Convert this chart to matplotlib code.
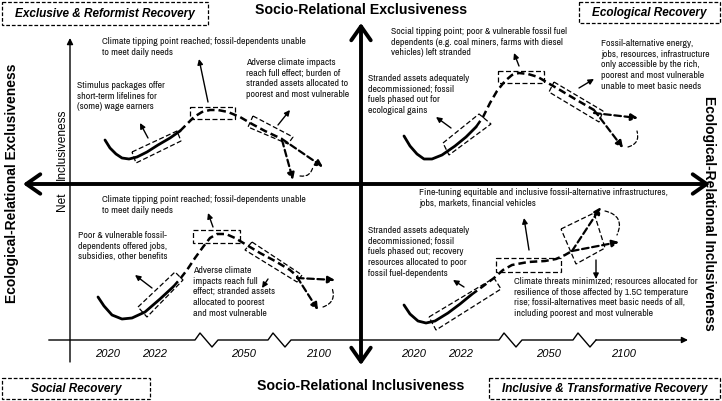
import matplotlib.pyplot as plt
from matplotlib import font_manager
from matplotlib.patches import FancyArrowPatch, Polygon

# ---- diagram content (positions in picture pixels, y down) ----
title_top = "Socio-Relational Exclusiveness"
title_bottom = "Socio-Relational Inclusiveness"
side_left = "Ecological-Relational Exclusiveness"
side_right = "Ecological-Relational Inclusiveness"
corner_labels = ["Exclusive & Reformist Recovery", "Ecological Recovery",
                 "Social Recovery", "Inclusive & Transformative Recovery"]
years = ["2020", "2022", "2050", "2100"]
year_x_left = [108, 155, 244, 319]
year_x_right = [414, 461, 549, 624]
zigzag_x = [195, 268, 499, 573]

# trajectories: solid part (now) and dashed part (projected)
tl_solid = [(105, 140), (110, 148), (116, 154), (122, 158), (129, 159), (137, 157),
            (147, 152), (158, 145), (170, 138), (180, 131)]
tl_dash = [(180, 131), (187, 124), (194, 117), (202, 112), (210, 110), (218, 110),
           (228, 112), (240, 117), (252, 124), (265, 131), (282, 139)]
tr_solid = [(404, 136), (410, 146), (417, 154), (424, 159), (432, 159), (442, 155),
            (455, 146), (466, 137), (476, 127)]
tr_dash = [(476, 127), (483, 117), (490, 103), (497, 91), (505, 81), (512, 75),
           (519, 73), (528, 74), (538, 77), (548, 83), (560, 90), (575, 99), (594, 110)]
bl_solid = [(98, 297), (104, 306), (112, 315), (122, 319), (132, 318), (145, 312),
            (160, 299), (173, 287)]
bl_dash = [(173, 287), (180, 279), (187, 270), (195, 258), (203, 247), (210, 238),
           (217, 234), (226, 234), (235, 238), (245, 244), (260, 253), (275, 261),
           (290, 270), (298, 277)]
br_solid = [(404, 305), (410, 314), (418, 321), (426, 323), (435, 321), (448, 313),
            (460, 304), (471, 295)]
br_dash = [(471, 295), (482, 287), (494, 278), (503, 270), (512, 265), (528, 262),
           (545, 261), (556, 259), (565, 255), (572, 251)]

# forked dashed arrows at the end of each trajectory (start, end)
forks = [((282, 139), (323, 167)), ((282, 140), (293, 180)),
         ((594, 113), (638, 118)), ((594, 110), (623, 148)),
         ((297, 278), (335, 280)), ((297, 277), (318, 310)),
         ((572, 251), (601, 207)), ((572, 251), (619, 242))]
# small dashed arcs between the fork ends
arcs = [((300, 176), (313, 166), 0.5), ((628, 147), (637, 131), 0.5),
        ((323, 307), (332, 288), 0.5), ((605, 211), (617, 235), -0.6)]

# dashed highlight boxes
boxes = [
    [(132, 152), (177, 131), (181, 141), (136, 163)],
    [(190, 107), (235, 107), (235, 119), (190, 119)],
    [(253, 116), (293, 137), (288, 144), (248, 127)],
    [(443, 143), (479, 114), (491, 124), (449, 155)],
    [(498, 71), (544, 71), (544, 83), (498, 83)],
    [(554, 82), (603, 111), (599, 122), (549, 92)],
    [(138, 307), (175, 272), (183, 280), (147, 317)],
    [(193, 230), (240, 230), (240, 243), (193, 243)],
    [(252, 242), (302, 275), (297, 282), (245, 250)],
    [(429, 317), (494, 278), (501, 289), (436, 330)],
    [(496, 258), (561, 258), (561, 272), (496, 272)],
    [(561, 229), (594, 213), (605, 248), (576, 264)],
]

# pointer arrows from boxes to notes (start, end)
pointers = [((148, 138), (140, 123)), ((208, 102), (199, 59)), ((278, 125), (290, 110)),
            ((451, 128), (436, 117)), ((519, 66), (514, 53)), ((579, 88), (594, 79)),
            ((152, 288), (135, 275)), ((213, 227), (208, 213)), ((268, 279), (262, 288)),
            ((464, 287), (453, 280)), ((529, 250), (524, 218)), ((596, 260), (596, 279))]

# notes: left x, centre of first line, text
notes = [
    (102, 43, "Climate tipping point reached; fossil-dependents unable\nto meet daily needs"),
    (77, 87, "Stimulus packages offer\nshort-term lifelines for\n(some) wage earners"),
    (246, 64, "Adverse climate impacts\nreach full effect; burden of\nstranded assets allocated to\npoorest and most vulnerable"),
    (391, 33, "Social tipping point; poor & vulnerable fossil fuel\ndependents (e.g. coal miners, farms with diesel\nvehicles) left stranded"),
    (368, 80, "Stranded assets adequately\ndecommissioned; fossil\nfuels phased out for\necological gains"),
    (601, 45, "Fossil-alternative energy,\njobs, resources, infrastructure\nonly accessible by the rich,\npoorest and most vulnerable\nunable to meet basic needs"),
    (102, 201, "Climate tipping point reached; fossil-dependents unable\nto meet daily needs"),
    (78, 237, "Poor & vulnerable fossil-\ndependents offered jobs,\nsubsidies, other benefits"),
    (193, 272, "Adverse climate\nimpacts reach full\neffect; stranded assets\nallocated to poorest\nand most vulnerable"),
    (419, 194, "Fine-tuning equitable and inclusive fossil-alternative infrastructures,\njobs, markets, financial vehicles"),
    (368, 232, "Stranded assets adequately\ndecommissioned; fossil\nfuels phased out; recovery\nresources allocated to poor\nfossil fuel-dependents"),
    (514, 283, "Climate threats minimized; resources allocated for\nresilience of those affected by 1.5C temperature\nrise; fossil-alternatives meet basic needs of all,\nincluding poorest and most vulnerable"),
]

plt.rcParams["font.family"] = ["Liberation Sans", "DejaVu Sans"]

# pick a narrow face for the notes if one is installed
installed = {f.name for f in font_manager.fontManager.ttflist}
narrow_name = "Liberation Sans"
prefs = ["Liberation Sans Narrow", "Arial Narrow", "Archivo Narrow", "PT Sans Narrow",
         "Roboto Condensed", "Fira Sans Condensed", "IBM Plex Sans Condensed",
         "Open Sans Condensed", "Asap Condensed", "Encode Sans Condensed",
         "Barlow Semi Condensed", "Sofia Sans Condensed", "Pragati Narrow", "Abel"]
for cand in prefs:
    if cand in installed:
        narrow_name = cand
        break
else:
    extra = sorted(n for n in installed if "Narrow" in n or "Condensed" in n)
    if extra:
        narrow_name = extra[0]
narrow = [narrow_name, "DejaVu Sans"]

fig = plt.figure(figsize=(7.22, 4.01), dpi=100)
ax = fig.add_axes([0, 0, 1, 1])
ax.set_xlim(0, 722)
ax.set_ylim(401, 0)
ax.axis("off")

# size the notes so the longest reference line is ~203 px wide
probe = ax.text(0, 0, "Climate tipping point reached; fossil-dependents unable",
                fontsize=7, family=narrow)
fig.canvas.draw()
w = probe.get_window_extent().width
probe.remove()
note_size = min(7.3, 7 * 203 / w)
note_px = note_size * 100 / 72
note_ls = 12.3 / note_px

# main axes (thick, open heads)
ax.add_patch(FancyArrowPatch((23, 184), (710, 184), arrowstyle="<->,head_length=0.5,head_width=0.35",
                             mutation_scale=20, lw=2.8, color="black", shrinkA=0, shrinkB=0))
ax.add_patch(FancyArrowPatch((361, 365), (361, 23), arrowstyle="<->,head_length=0.5,head_width=0.35",
                             mutation_scale=20, lw=2.8, color="black", shrinkA=0, shrinkB=0))

# inner time axes
ax.add_patch(FancyArrowPatch((70, 362), (70, 38), arrowstyle="-|>", mutation_scale=9,
                             lw=1, color="black", shrinkA=0, shrinkB=0))
base_y = 340
bx = [49]
by = [base_y]
for z in zigzag_x:
    bx += [z, z + 5, z + 17, z + 23]
    by += [base_y, base_y - 7, base_y + 7, base_y]
ax.plot(bx, by, color="black", lw=1)
ax.add_patch(FancyArrowPatch((zigzag_x[-1] + 23, base_y), (688, base_y), arrowstyle="-|>",
                             mutation_scale=9, lw=1, color="black", shrinkA=0, shrinkB=0))

for xs in (year_x_left, year_x_right):
    for x, lab in zip(xs, years):
        ax.text(x, 354, lab, ha="center", va="center", fontsize=8, style="italic")

ax.text(62, 144, "Inclusiveness", rotation=90, ha="center", va="center", fontsize=8.6)
ax.text(62, 202, "Net", rotation=90, ha="center", va="center", fontsize=8.6)

# trajectories
for solid, dash in ((tl_solid, tl_dash), (tr_solid, tr_dash), (bl_solid, bl_dash), (br_solid, br_dash)):
    ax.plot([p[0] for p in solid], [p[1] for p in solid], color="black", lw=2,
            solid_capstyle="round", solid_joinstyle="round")
    ax.plot([p[0] for p in dash], [p[1] for p in dash], color="black", lw=1.8,
            linestyle=(0, (3, 1.6)))

for s, e in forks:
    ax.add_patch(FancyArrowPatch(s, e, arrowstyle="-|>", mutation_scale=10, lw=1.6,
                                 linestyle=(0, (3, 1.6)), color="black", shrinkA=0, shrinkB=0))
for s, e, rad in arcs:
    ax.add_patch(FancyArrowPatch(s, e, arrowstyle="-", connectionstyle=f"arc3,rad={rad}",
                                 lw=0.9, linestyle=(0, (3, 2)), color="black", shrinkA=0, shrinkB=0))

for b in boxes:
    ax.add_patch(Polygon(b, closed=True, fill=False, lw=0.9, ls=(0, (4, 2)), ec="black"))

for s, e in pointers:
    ax.add_patch(FancyArrowPatch(s, e, arrowstyle="-|>", mutation_scale=8, lw=1,
                                 color="black", shrinkA=0, shrinkB=0))

for x, yc, t in notes:
    ax.text(x, yc - 0.62 * note_px, t, ha="left", va="top", fontsize=note_size, family=narrow,
            color="#111111", linespacing=note_ls)

# titles
ax.text(361, 10, title_top, ha="center", va="center", fontsize=10.2, weight="bold")
ax.text(361, 386, title_bottom, ha="center", va="center", fontsize=10.2, weight="bold")
ax.text(12, 183, side_left, rotation=90, ha="center", va="center", fontsize=10, weight="bold")
ax.text(709, 213, side_right, rotation=270, ha="center", va="center", fontsize=10, weight="bold")

corner_boxes = [(2, 2, 206, 23), (579, 2, 141, 21), (2, 378, 148, 21), (489, 378, 231, 21)]
for (x0, y0, bw, bh), lab in zip(corner_boxes, corner_labels):
    ax.add_patch(Polygon([(x0, y0), (x0 + bw, y0), (x0 + bw, y0 + bh), (x0, y0 + bh)], closed=True,
                         fill=False, lw=0.9, ls=(0, (3, 1.5)), ec="black"))
    ax.text(x0 + bw / 2, y0 + bh / 2 + 0.5, lab, ha="center", va="center", fontsize=8.5,
            weight="bold", style="italic")

fig.savefig("out.png", dpi=100)
